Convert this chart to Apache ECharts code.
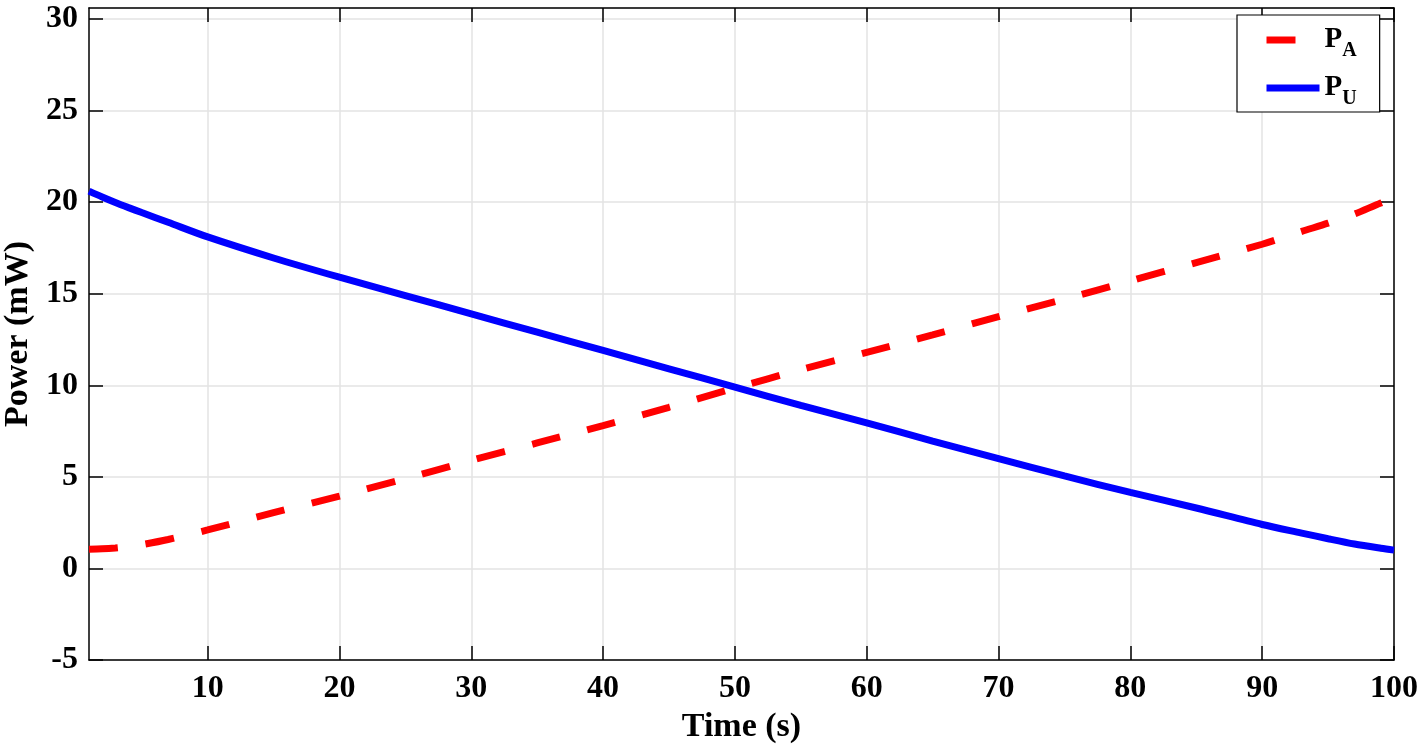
<!DOCTYPE html>
<html>
<head>
<meta charset="utf-8">
<script src="https://cdn.jsdelivr.net/npm/echarts@6/dist/echarts.min.js"></script>
<style>
html,body{margin:0;padding:0;background:#fff;}
#chart{width:1424px;height:748px;}
</style>
</head>
<body>
<div id="chart"></div>
<script>
const timeS  = [1,2,3,4,5,7,10,15,20,25,30,35,40,45,50,55,60,65,70,75,80,85,90,93,95,97,99,100];
const powerU = [20.6,20.28,19.98,19.7,19.43,18.9,18.1,16.95,15.9,14.9,13.9,12.9,11.9,10.9,9.9,8.9,7.95,6.95,6.0,5.05,4.15,3.3,2.4,1.93,1.62,1.33,1.1,1.0];
const powerA = [1.05,1.07,1.12,1.2,1.3,1.58,2.1,3.05,3.95,4.9,5.9,6.85,7.8,8.8,9.85,10.85,11.8,12.75,13.75,14.7,15.7,16.7,17.7,18.4,18.85,19.35,19.95,20.2];
const xTicks = [10,20,30,40,50,60,70,80,90,100];
const seriesNames = ['PA','PU'];
const legendSub = {PA:'A', PU:'U'};

const FONT = 'Liberation Serif';
const chart = echarts.init(document.getElementById('chart'));
const pairs = a => timeS.map((t,i)=>[t,a[i]]);

chart.setOption({
  animation:false,
  backgroundColor:'#fff',
  grid:{left:89,right:30,top:8,bottom:88,containLabel:false,outerBoundsMode:'none'},
  legend:{
    orient:'vertical', left:1237, top:15,
    padding:[4,23,3,26], itemGap:6,
    itemWidth:53, itemHeight:14,
    backgroundColor:'#fff', borderColor:'#000', borderWidth:1.2, borderRadius:0,
    data:seriesNames,
    itemStyle:{opacity:0, borderWidth:0},
    lineStyle:{width:7, opacity:1},
    formatter: n => '{p|P}{s|' + legendSub[n] + '}',
    textStyle:{
      rich:{
        p:{fontFamily:FONT,fontWeight:'bold',fontSize:29,lineHeight:30,verticalAlign:'top',color:'#000'},
        s:{fontFamily:FONT,fontWeight:'bold',fontSize:20,lineHeight:20,padding:[22,0,0,0],color:'#000'}
      }
    }
  },
  xAxis:[{
    type:'value', min:1, max:100, position:'bottom',
    name:'Time (s)', nameLocation:'middle', nameGap:50,
    nameTextStyle:{fontFamily:FONT,fontWeight:'bold',fontSize:34,color:'#000'},
    axisLine:{show:true,onZero:false,lineStyle:{color:'#000',width:1.5}},
    axisTick:{show:true,inside:true,length:14,customValues:xTicks,lineStyle:{color:'#000',width:1.5}},
    axisLabel:{customValues:xTicks,margin:13,fontFamily:FONT,fontWeight:'bold',fontSize:32,color:'#000'},
    splitLine:{show:true,lineStyle:{color:'#e3e3e3',width:1.5}}
  },{
    type:'value', min:1, max:100, position:'top',
    axisLine:{show:true,onZero:false,lineStyle:{color:'#000',width:1.5}},
    axisTick:{show:true,inside:true,length:14,customValues:xTicks,lineStyle:{color:'#000',width:1.5}},
    axisLabel:{show:false},
    splitLine:{show:false}
  }],
  yAxis:[{
    type:'value', min:-5, max:30.6, interval:5, position:'left',
    name:'Power (mW)', nameLocation:'middle', nameGap:52,
    nameTextStyle:{fontFamily:FONT,fontWeight:'bold',fontSize:34,color:'#000'},
    axisLine:{show:true,onZero:false,lineStyle:{color:'#000',width:1.5}},
    axisTick:{show:true,inside:true,length:14,lineStyle:{color:'#000',width:1.5}},
    axisLabel:{margin:11,showMaxLabel:false,fontFamily:FONT,fontWeight:'bold',fontSize:32,color:'#000',
      formatter:v=> (Math.abs(v%5)<1e-9 ? String(v) : '')},
    splitLine:{show:true,lineStyle:{color:'#e3e3e3',width:1.5}}
  },{
    type:'value', min:-5, max:30.6, interval:5, position:'right',
    axisLine:{show:true,onZero:false,lineStyle:{color:'#000',width:1.5}},
    axisTick:{show:true,inside:true,length:14,lineStyle:{color:'#000',width:1.5}},
    axisLabel:{show:false},
    splitLine:{show:false}
  }],
  series:[{
    name:'PA', type:'line', data:pairs(powerA), smooth:0.3, symbol:'none', clip:true,
    xAxisIndex:0, yAxisIndex:0, z:3,
    lineStyle:{color:'#ff0000',width:7,type:[29,28],cap:'butt'},
    itemStyle:{color:'#ff0000'}
  },{
    name:'PU', type:'line', data:pairs(powerU), smooth:0.3, symbol:'none', clip:true,
    xAxisIndex:0, yAxisIndex:0, z:4,
    lineStyle:{color:'#0000ff',width:7,type:'solid',cap:'butt'},
    itemStyle:{color:'#0000ff'}
  }]
});
</script>
</body>
</html>
